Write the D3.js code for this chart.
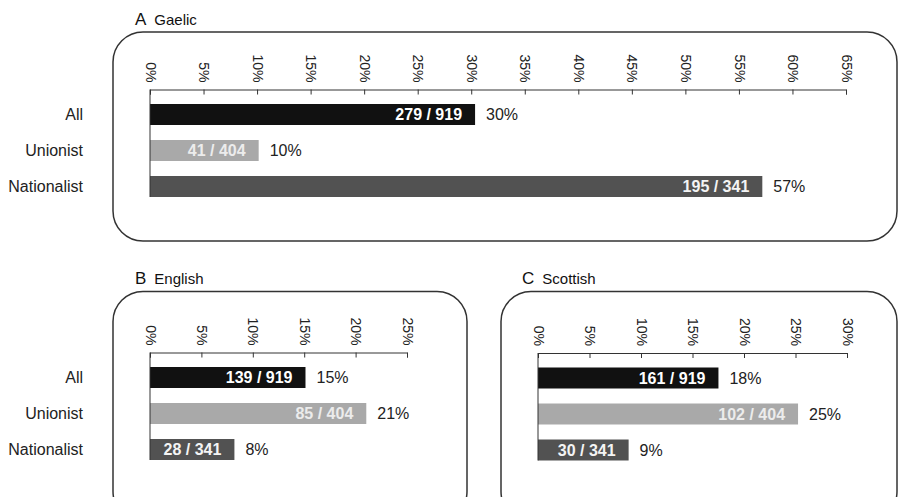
<!DOCTYPE html>
<html>
<head>
<meta charset="utf-8">
<script src="https://cdn.jsdelivr.net/npm/d3@7"></script>
<style>
  body { margin: 0; background: #fff; }
  text { font-family: "Liberation Sans", Arial, sans-serif; }
</style>
</head>
<body>
<script>
const groups = ['All', 'Unionist', 'Nationalist']
const totals = [919, 404, 341]
const gaelic = [279, 41, 195]
const english = [139, 85, 28]
const scottish = [161, 102, 30]
const gaelicTicks = [0, 5, 10, 15, 20, 25, 30, 35, 40, 45, 50, 55, 60, 65]
const englishTicks = [0, 5, 10, 15, 20, 25]
const scottishTicks = [0, 5, 10, 15, 20, 25, 30]

const fills = ['#111111', '#a9a9a9', '#525252']
const inner = ['#ffffff', '#ececec', '#f4f4f4']

const svg = d3.select('body').append('svg')
  .attr('width', 898).attr('height', 497)

const panels = [
  { letter: 'A', name: 'Gaelic', counts: gaelic, ticks: gaelicTicks,
    box: [113, 32, 784, 209], tx: 135, ty: 25, x0: 150, x1: 846, axisY: 89.5, labels: true },
  { letter: 'B', name: 'English', counts: english, ticks: englishTicks,
    box: [113, 291.5, 354, 230], tx: 135, ty: 284, x0: 150, x1: 407, axisY: 352.5, labels: true },
  { letter: 'C', name: 'Scottish', counts: scottish, ticks: scottishTicks,
    box: [501, 291.5, 396, 230], tx: 522, ty: 284, x0: 538, x1: 847, axisY: 353, labels: false }
]

panels.forEach(p => {
  const g = svg.append('g')

  g.append('rect')
    .attr('x', p.box[0]).attr('y', p.box[1])
    .attr('width', p.box[2]).attr('height', p.box[3])
    .attr('rx', 30).attr('ry', 30)
    .attr('fill', 'none').attr('stroke', '#333').attr('stroke-width', 1.5)

  const title = g.append('text').attr('x', p.tx).attr('y', p.ty).attr('fill', '#111')
  title.append('tspan').attr('font-size', 17).text(p.letter)
  title.append('tspan').attr('font-size', 15).attr('dx', 8).text(p.name)

  const x = d3.scaleLinear()
    .domain([0, p.ticks[p.ticks.length - 1]])
    .range([p.x0, p.x1])

  const ax = g.append('g')
    .attr('transform', 'translate(0,' + p.axisY + ')')
    .call(d3.axisTop(x).tickValues(p.ticks)
      .tickSizeInner(-5).tickSizeOuter(-5)
      .tickFormat(d => d + '%'))
  ax.select('.domain').attr('stroke', '#333')
  ax.selectAll('.tick line').attr('stroke', '#333')
  ax.selectAll('.tick text')
    .attr('transform', 'rotate(90)')
    .attr('x', -7).attr('y', 0).attr('dy', '0.35em')
    .attr('text-anchor', 'end')
    .attr('font-size', 14)
    .attr('fill', '#222')

  const y = i => p.axisY + 14.5 + i * 36
  const bh = 21

  const rows = groups.map((gname, i) => ({
    name: gname, i, n: p.counts[i], tot: totals[i], v: p.counts[i] / totals[i] * 100
  }))

  g.selectAll('rect.bar').data(rows).enter().append('rect')
    .attr('class', 'bar')
    .attr('x', x(0)).attr('y', d => y(d.i))
    .attr('width', d => x(d.v) - x(0)).attr('height', bh)
    .attr('fill', d => fills[d.i])

  g.append('line')
    .attr('x1', x(0)).attr('x2', x(0))
    .attr('y1', p.axisY).attr('y2', y(2) + bh)
    .attr('stroke', '#333')

  g.selectAll('text.inner').data(rows).enter().append('text')
    .attr('class', 'inner')
    .attr('x', d => x(d.v) - 13).attr('y', d => y(d.i) + bh / 2)
    .attr('dy', '0.36em').attr('text-anchor', 'end')
    .attr('font-size', 16).attr('font-weight', 'bold')
    .attr('fill', d => inner[d.i])
    .text(d => d.n + ' / ' + d.tot)

  g.selectAll('text.pct').data(rows).enter().append('text')
    .attr('class', 'pct')
    .attr('x', d => x(d.v) + 11).attr('y', d => y(d.i) + bh / 2)
    .attr('dy', '0.36em')
    .attr('font-size', 16).attr('fill', '#222')
    .text(d => Math.round(d.v) + '%')

  if (p.labels) {
    g.selectAll('text.cat').data(rows).enter().append('text')
      .attr('class', 'cat')
      .attr('x', 83).attr('y', d => y(d.i) + bh / 2)
      .attr('dy', '0.36em').attr('text-anchor', 'end')
      .attr('font-size', 16).attr('fill', '#222')
      .text(d => d.name)
  }
})
</script>
</body>
</html>
